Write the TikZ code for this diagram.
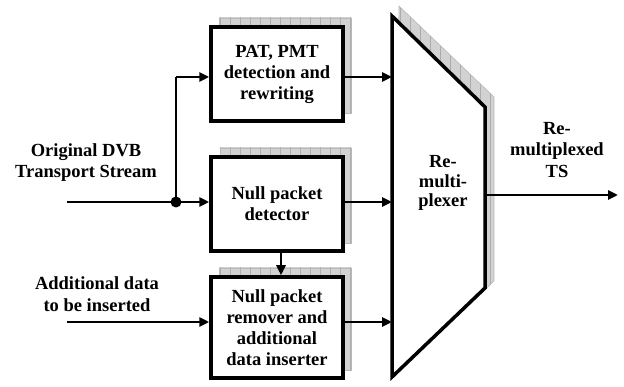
\documentclass[tikz,border=0pt]{standalone}
\usepackage{fontspec}
\setmainfont{Liberation Serif}
\usetikzlibrary{arrows.meta}
\tikzset{
  blk/.style={draw, line width=3.5pt, fill=white, minimum width=132pt, align=center, font=\fontsize{18.5}{21}\selectfont\bfseries, inner sep=0pt},
  lbl/.style={align=center, font=\fontsize{18.5}{21.5}\selectfont\bfseries, inner sep=0pt},
  conn/.style={line width=2.6pt, -{Triangle[length=10pt,width=9pt]}},
  wire/.style={line width=2.6pt},
}
\newcommand{\shadowgrid}[1]{%
  \begin{scope}
    \clip #1;
    \fill[gray!35] (0,0) rectangle (624,387);
    \draw[gray!65, line width=0.5pt, step=10] (0,0) grid (624,387);
  \end{scope}
  \draw[gray!55, line width=0.6pt] #1;
}
\begin{document}
\begin{tikzpicture}[x=1pt,y=-1pt]
\useasboundingbox (0,0) rectangle (624,387);
% shadows
\shadowgrid{(219,18) rectangle (351,113)}
\shadowgrid{(220,148) rectangle (351,243)}
\shadowgrid{(219,268) rectangle (351,370)}
\shadowgrid{(399,6) -- (494,97) -- (494,281) -- (485,290) -- (392,370) -- cycle}
% blocks
\node[blk, minimum height=94pt] (pat) at (277,74) {PAT, PMT\\detection and\\rewriting};
\node[blk, minimum height=94pt] (det) at (277,204) {Null packet\\detector};
\node[blk, minimum height=101pt] (rem) at (277,327.5) {Null packet\\remover and\\additional\\data inserter};
% mux
\draw[line width=3.5pt, fill=white, line join=miter] (392,16) -- (485,107) -- (485,288) -- (392,377) -- cycle;
\node[lbl, font=\fontsize{18.5}{19.5}\selectfont\bfseries] (mux) at (443,183) {Re-\\multi-\\plexer};
\coordinate (m1) at (392,77);
\coordinate (m2) at (392,202);
\coordinate (m3) at (392,322);
\coordinate (mout) at (485,195);
\coordinate (out) at (618,195);
% labels
\node[lbl] (inlbl) at (86,162.5) {Original DVB\\Transport Stream};
\node[lbl] (addlbl) at (97,294) {Additional data\\to be inserted};
\node[lbl] (outlbl) at (557,150) {Re-\\multiplexed\\TS};
\coordinate (in) at (67,202);
\coordinate (addin) at (67,322);
\coordinate (split) at (176,202);
% connectors
\draw[conn] (in) -- (det.west |- split);
\draw[wire] (split) -- (split |- m1);
\draw[conn] (split |- m1) -- (pat.west |- m1);
\fill (split) circle (5.5pt);
\draw[conn] (addin) -- (rem.west |- addin);
\draw[conn] (pat.east |- m1) -- (m1);
\draw[conn] (det.east |- m2) -- (m2);
\draw[conn] (rem.east |- m3) -- (m3);
\draw[conn] (det.south -| 281,0) -- (rem.north -| 281,0);
\draw[conn] (mout) -- (out);
\end{tikzpicture}
\end{document}
